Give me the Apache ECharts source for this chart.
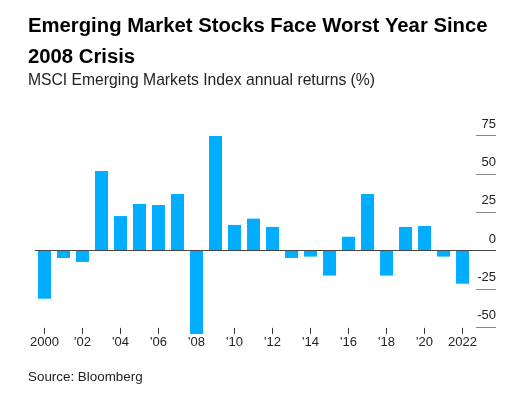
<!DOCTYPE html>
<html>
<head>
<meta charset="utf-8">
<script src="https://cdn.jsdelivr.net/npm/echarts@6/dist/echarts.min.js"></script>
<style>
  html, body { margin: 0; padding: 0; background: #fff; }
  #chart { width: 510px; height: 396px; }
</style>
</head>
<body>
<div id="chart"></div>
<script>
// annual returns
var years = [2000, 2001, 2002, 2003, 2004, 2005, 2006, 2007, 2008, 2009, 2010, 2011,
             2012, 2013, 2014, 2015, 2016, 2017, 2018, 2019, 2020, 2021, 2022]
var returns = [-31.5, -4.9, -7.5, 52, 22.5, 30.4, 29.7, 36.9, -54.5, 74.8, 16.7, 20.8,
               15.4, -4.9, -4.0, -16.4, 9.0, 36.9, -16.4, 15.4, 16.0, -4.0, -21.7]
var xTicks = [2000, 2002, 2004, 2006, 2008, 2010, 2012, 2014, 2016, 2018, 2020, 2022]
var xTickLabels = ['2000', "'02", "'04", "'06", "'08", "'10", "'12", "'14", "'16", "'18", "'20", '2022']
var yTicks = [-50, -25, 0, 25, 50, 75]

var font = 'Liberation Sans, Arial, sans-serif'
var myChart = echarts.init(document.getElementById('chart'))

myChart.setOption({
    backgroundColor: '#fff',
    animation: false,
    title: [{
        text: 'Emerging Market Stocks Face Worst Year Since\n2008 Crisis',
        left: 28, top: 11, padding: 0,
        textStyle: { fontFamily: font, fontSize: 20.3, fontWeight: 'bold', color: '#000', lineHeight: 31 }
    }, {
        text: 'MSCI Emerging Markets Index annual returns (%)',
        left: 28, top: 72, padding: 0,
        textStyle: { fontFamily: font, fontSize: 15.7, fontWeight: 'normal', color: '#222', lineHeight: 18 }
    }, {
        text: 'Source: Bloomberg',
        left: 28, top: 369, padding: 0,
        textStyle: { fontFamily: font, fontSize: 13.4, fontWeight: 'normal', color: '#222', lineHeight: 16 }
    }],
    grid: { left: 35, right: 14, top: 135.7, bottom: 62.1 },
    xAxis: {
        type: 'value',
        min: 1999.5,
        max: 2023.76,
        splitLine: { show: false },
        axisLine: { show: false, onZero: false },
        axisTick: {
            show: true, inside: true, length: 6,
            customValues: xTicks,
            lineStyle: { color: '#333', width: 1 }
        },
        axisLabel: {
            customValues: xTicks,
            margin: 2,
            fontFamily: font, fontSize: 13, color: '#222',
            formatter: function (v) {
                return xTickLabels[xTicks.indexOf(Math.round(v))]
            }
        }
    },
    yAxis: {
        type: 'value',
        position: 'right',
        min: -54.5,
        max: 75,
        splitLine: { show: false },
        axisLine: { show: false },
        axisTick: {
            show: true, inside: true, length: 20,
            customValues: yTicks,
            lineStyle: { color: '#888', width: 1 }
        },
        axisLabel: {
            inside: true,
            margin: 0,
            customValues: yTicks,
            verticalAlign: 'bottom',
            padding: [0, 0, 5, 0],
            fontFamily: font, fontSize: 13, color: '#222'
        }
    },
    series: [{
        type: 'bar',
        barWidth: 13,
        data: years.map(function (y, i) { return [y, returns[i]] }),
        itemStyle: { color: '#00adff' },
        markLine: {
            silent: true,
            symbol: 'none',
            label: { show: false },
            lineStyle: { color: '#444', width: 1, type: 'solid' },
            data: [{ yAxis: 0 }]
        }
    }]
})
</script>
</body>
</html>
